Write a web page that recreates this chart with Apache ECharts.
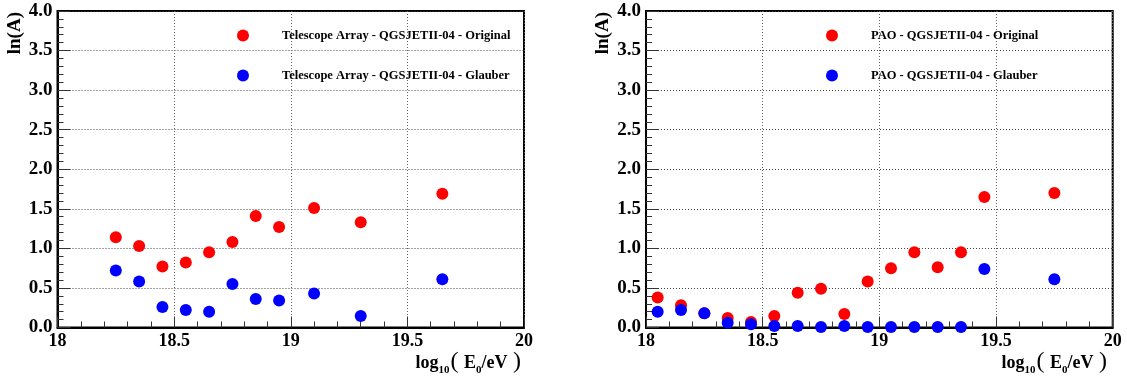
<!DOCTYPE html>
<html>
<head>
<meta charset="utf-8">
<script src="https://cdn.jsdelivr.net/npm/echarts@6/dist/echarts.min.js"></script>
<style>
html,body{margin:0;padding:0;background:#fff;}
#chart{width:1127px;height:378px;}
</style>
</head>
<body>
<div id="chart"></div>
<script>
// ---- data ----
const xTA = [18.25, 18.35, 18.45, 18.55, 18.65, 18.75, 18.85, 18.95, 19.1, 19.3, 19.65];
const taOriginal = [1.14, 1.03, 0.77, 0.82, 0.95, 1.08, 1.41, 1.27, 1.51, 1.33, 1.69];
const taGlauber  = [0.72, 0.58, 0.26, 0.22, 0.20, 0.55, 0.36, 0.34, 0.43, 0.145, 0.61];

const xPAO = [18.05, 18.15, 18.25, 18.35, 18.45, 18.55, 18.65, 18.75, 18.85, 18.95, 19.05, 19.15, 19.25, 19.35, 19.45, 19.75];
const paoOriginal = [0.38, 0.28, 0.18, 0.12, 0.07, 0.145, 0.44, 0.49, 0.17, 0.58, 0.75, 0.95, 0.76, 0.95, 1.65, 1.70];
const paoGlauber  = [0.20, 0.22, 0.18, 0.06, 0.04, 0.02, 0.02, 0.005, 0.02, 0.005, 0.005, 0.005, 0.005, 0.005, 0.74, 0.61];

const seriesNames = [
  'Telescope Array - QGSJETII-04 - Original',
  'Telescope Array - QGSJETII-04 - Glauber',
  'PAO - QGSJETII-04 - Original',
  'PAO - QGSJETII-04 - Glauber'
];
const yTitle = 'ln(A)';

// ---- build ----
const FONT = '"Liberation Serif", "DejaVu Serif", serif';
const RED = '#ff0000', BLUE = '#0000ff';
const zip = (xs, ys) => xs.map((x, i) => [x, ys[i]]);

function xAxisCfg(gi) {
  return {
    type: 'value', gridIndex: gi, min: 18, max: 20, interval: 0.5,
    axisLine: {show: true, onZero: false, lineStyle: {color: '#000', width: 2}},
    axisTick: {show: true, inside: true, length: 11, lineStyle: {color: '#333', width: 1}},
    minorTick: {show: true, splitNumber: 5, length: 6, lineStyle: {color: '#333', width: 1}},
    splitLine: {show: true, lineStyle: {color: '#666', type: [1, 2], width: 1}},
    axisLabel: {fontFamily: FONT, fontWeight: 'bold', fontSize: 18, color: '#000', margin: 5,
      formatter: v => String(v)}
  };
}
function yAxisCfg(gi) {
  return {
    type: 'value', gridIndex: gi, min: 0, max: 4, interval: 0.5,
    axisLine: {show: true, onZero: false, lineStyle: {color: '#000', width: 2}},
    axisTick: {show: true, inside: true, length: 13, lineStyle: {color: '#333', width: 1}},
    minorTick: {show: true, splitNumber: 5, length: 6, lineStyle: {color: '#333', width: 1}},
    splitLine: {show: true, lineStyle: {color: '#444', type: [1, 2], width: 1}},
    axisLabel: {fontFamily: FONT, fontWeight: 'bold', fontSize: 19, color: '#000', margin: 5,
      formatter: v => v.toFixed(1)}
  };
}
function scatter(name, gi, data, color) {
  return {
    name, type: 'scatter', xAxisIndex: gi, yAxisIndex: gi, data,
    symbol: 'circle', symbolSize: 12, clip: false,
    itemStyle: {color, opacity: 1}
  };
}
function legendCfg(names, left) {
  return {
    data: names.map(n => ({name: n, icon: 'circle'})),
    orient: 'vertical', left, top: 29,
    itemWidth: 68, itemHeight: 12, itemGap: 27,
    padding: 0,
    textStyle: {fontFamily: FONT, fontWeight: 'bold', fontSize: 12.5, color: '#000'},
    selectedMode: false
  };
}
function xTitle(right) {
  return {
    type: 'text', right, top: 350,
    style: {
      text: '{a|log}{s|10}{p|(}{a| E}{s|0}{a|/eV }{p|)}',
      rich: {
        a: {fontFamily: FONT, fontWeight: 'bold', fontSize: 18, fill: '#000', lineHeight: 24, verticalAlign: 'bottom'},
        s: {fontFamily: FONT, fontWeight: 'bold', fontSize: 11, fill: '#000', lineHeight: 24, verticalAlign: 'bottom', padding: [0, 0, -4, 0]},
        p: {fontFamily: FONT, fontWeight: 'normal', fontSize: 24, fill: '#000', lineHeight: 24, verticalAlign: 'bottom', padding: [0, 1, -2, 1]}
      }
    }
  };
}
function yTitleG(x) {
  return {
    type: 'text', x, y: 12, rotation: Math.PI / 2,
    style: {text: yTitle, fontFamily: FONT, fontWeight: 'bold', fontSize: 19, fill: '#000',
      align: 'right', verticalAlign: 'middle'}
  };
}

const chart = echarts.init(document.getElementById('chart'), null, {renderer: 'canvas'});
chart.setOption({
  animation: false,
  backgroundColor: '#fff',
  grid: [
    {left: 57.5, top: 11, width: 466.5, height: 316.5, show: true, borderColor: '#000', borderWidth: 2, backgroundColor: 'transparent'},
    {left: 646, top: 11, width: 466.7, height: 316.5, show: true, borderColor: '#000', borderWidth: 2, backgroundColor: 'transparent'}
  ],
  xAxis: [xAxisCfg(0), xAxisCfg(1)],
  yAxis: [yAxisCfg(0), yAxisCfg(1)],
  legend: [
    legendCfg([seriesNames[0], seriesNames[1]], 237),
    legendCfg([seriesNames[2], seriesNames[3]], 826)
  ],
  series: [
    scatter(seriesNames[0], 0, zip(xTA, taOriginal), RED),
    scatter(seriesNames[1], 0, zip(xTA, taGlauber), BLUE),
    scatter(seriesNames[2], 1, zip(xPAO, paoOriginal), RED),
    scatter(seriesNames[3], 1, zip(xPAO, paoGlauber), BLUE)
  ],
  graphic: [yTitleG(15), yTitleG(603), xTitle(1127 - 522), xTitle(1127 - 1108)]
});
</script>
</body>
</html>
